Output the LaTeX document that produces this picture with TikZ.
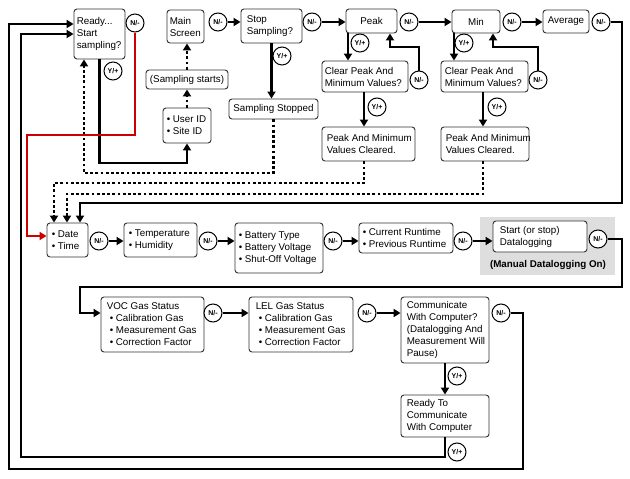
\documentclass[tikz,border=0pt]{standalone}
\usepackage{fontspec}
\setmainfont{Liberation Sans}
\usetikzlibrary{arrows.meta}
\definecolor{boxline}{gray}{0.2}
\definecolor{bggray}{gray}{0.87}
\definecolor{redline}{RGB}{204,0,0}
\tikzset{
 box/.style={draw=boxline, line width=0.9pt, rounded corners=3pt, fill=white, inner sep=0pt},
 txt/.style={inner sep=0pt, font=\fontsize{9.8}{12}\selectfont},
 yn/.style={draw=black, circle, line width=1pt, fill=white, minimum size=18pt, inner sep=0pt, font=\fontsize{7}{7}\selectfont\bfseries},
 arr/.style={line width=2.4pt, -{Triangle[length=7pt,width=8pt]}},
 dotarr/.style={line width=2.6pt, dash pattern=on 2.8pt off 2.4pt, -{Triangle[length=7pt,width=8pt]}},
 redarr/.style={arr, draw=redline}
}
% left-aligned box: name x1 y1 x2 y2 pad text
\newcommand\bxl[7]{%
 \pgfmathsetmacro\bxw{#4-#2}\pgfmathsetmacro\bxh{#5-#3}%
 \node[box, minimum width=\bxw pt, minimum height=\bxh pt] (#1) at ({(#2+#4)/2},{(#3+#5)/2}) {};
 \node[txt, align=left, anchor=west] (#1t) at ([xshift=#6pt]#1.west) {#7};}
% centred box: name x1 y1 x2 y2 text
\newcommand\bxc[6]{%
 \pgfmathsetmacro\bxw{#4-#2}\pgfmathsetmacro\bxh{#5-#3}%
 \node[box, minimum width=\bxw pt, minimum height=\bxh pt] (#1) at ({(#2+#4)/2},{(#3+#5)/2}) {};
 \node[txt, align=center] (#1t) at (#1.center) {#6};}
\begin{document}
\begin{tikzpicture}[x=1pt,y=-1pt]
\useasboundingbox (0,0) rectangle (630,479);
\fill[white] (0,0) rectangle (630,479);
\fill[bggray] (480,217) rectangle (615,275);
\node[txt, font=\fontsize{9.8}{12}\selectfont\bfseries] (dlon) at (548,265) {(Manual Datalogging On)};

% boxes
\bxl{ready}{74}{9}{125}{59}{3}{Ready...\\Start\\sampling?}
\bxl{ms}{167}{10}{204}{43}{3}{Main\\Screen}
\bxl{stop}{241}{9}{302}{43}{6}{Stop\\Sampling?}
\bxc{sstop}{229}{99}{318}{119}{Sampling Stopped}
\bxc{sst}{146}{70}{228}{89}{(Sampling starts)}
\bxl{uid}{163}{108}{211}{143}{4}{• User ID\\• Site ID}
\bxc{peak}{346}{9}{397}{33}{Peak}
\bxc{min}{452}{10}{500}{33}{Min}
\bxc{avg}{543}{10}{589}{33}{Average}
\bxl{clr1}{322}{61}{408}{92}{3}{Clear Peak And\\Minimum Values?}
\bxl{pc1}{322}{127}{415}{161}{5}{Peak And Minimum\\Values Cleared.}
\bxl{clr2}{441}{61}{528}{92}{4}{Clear Peak And\\Minimum Values?}
\bxl{pc2}{441}{127}{529}{161}{5}{Peak And Minimum\\Values Cleared.}
\bxl{date}{47}{223}{88}{257}{5}{• Date\\• Time}
\bxl{temp}{124}{223}{197}{257}{5}{• Temperature\\• Humidity}
\bxl{bat}{235}{223}{323}{273}{4}{• Battery Type\\• Battery Voltage\\• Shut-Off Voltage}
\bxl{rt}{359}{223}{453}{253}{4}{• Current Runtime\\• Previous Runtime}
\bxl{dl}{493}{221}{587}{252}{7}{Start (or stop)\\Datalogging}
\bxl{voc}{101}{297}{204}{352}{6}{VOC Gas Status\\\hspace*{3pt}• Calibration Gas\\\hspace*{3pt}• Measurement Gas\\\hspace*{3pt}• Correction Factor}
\bxl{lel}{249}{297}{353}{352}{7}{LEL Gas Status\\\hspace*{3pt}• Calibration Gas\\\hspace*{3pt}• Measurement Gas\\\hspace*{3pt}• Correction Factor}
\bxl{comm}{401}{297}{489}{363}{6}{Communicate\\With Computer?\\(Datalogging And\\Measurement Will\\Pause)}
\bxl{rtc}{401}{395}{489}{437}{6}{Ready To\\Communicate\\With Computer}

% circles
\node[yn] (n-ready) at (135,23) {N/-};
\node[yn] (y-ready) at (113,71) {Y/+};
\node[yn] (n-ms) at (218,22) {N/-};
\node[yn] (n-stop) at (312,22) {N/-};
\node[yn] (y-stop) at (282,56) {Y/+};
\node[yn] (n-peak) at (409,22) {N/-};
\node[yn] (y-peak) at (360,43) {Y/+};
\node[yn] (n-clr1) at (419,80) {N/-};
\node[yn] (y-clr1) at (377,107) {Y/+};
\node[yn] (n-min) at (512,22) {N/-};
\node[yn] (y-min) at (464,43) {Y/+};
\node[yn] (n-clr2) at (538,80) {N/-};
\node[yn] (y-clr2) at (497,107) {Y/+};
\node[yn] (n-avg) at (601,22) {N/-};
\node[yn] (n-date) at (99,241) {N/-};
\node[yn] (n-temp) at (208,241) {N/-};
\node[yn] (n-bat) at (333,241) {N/-};
\node[yn] (n-rt) at (463,241) {N/-};
\node[yn] (n-dl) at (598,239) {N/-};
\node[yn] (n-voc) at (213,313) {N/-};
\node[yn] (n-lel) at (367,313) {N/-};
\node[yn] (n-comm) at (501,313) {N/-};
\node[yn] (y-comm) at (457,376) {Y/+};
\node[yn] (y-rtc) at (457,452) {Y/+};

% top row
\draw[arr] (n-ms.east) -- (stop.west |- n-ms.east);
\draw[arr] (n-stop.east) -- (peak.west |- n-stop.east);
\draw[arr] (n-peak.east) -- (min.west |- n-peak.east);
\draw[arr] (n-min.east) -- (avg.west |- n-min.east);
\draw[arr] (n-avg.east) -| (622,203) -| (date.north -| 80,0);
\draw[arr] (stop.south) -- (stop.south |- sstop.north);
\draw[arr] (ready.south) -- (ready.south |- 0,163) -| (uid.south);
\draw[dotarr] (uid.north) -- (uid.north |- sst.south);
\draw[dotarr] (sst.north) -- (sst.north |- ms.south);
\draw[dotarr] (sstop.south) -- (sstop.south |- 0,173) -| (ready.south -| 84,0);
\draw[redarr] (n-ready.south) -- (n-ready.south |- 0,135) -| (27,236) -- (date.west |- 0,236);

% peak column
\draw[arr] (peak.south -| 348,0) -- (clr1.north -| 348,0);
\draw[arr] (n-clr1.north) -- (n-clr1.north |- 0,47) -| (peak.south -| 390,0);
\draw[arr] (clr1.south -| 364,0) -- (pc1.north -| 364,0);
\draw[dotarr] (pc1.south -| 364,0) -- (364,183) -| (date.north -| 54,0);
% min column
\draw[arr] (min.south -| 454,0) -- (clr2.north -| 454,0);
\draw[arr] (n-clr2.north) -- (n-clr2.north |- 0,47) -| (min.south -| 493,0);
\draw[arr] (clr2.south -| 483,0) -- (pc2.north -| 483,0);
\draw[dotarr] (pc2.south -| 483,0) -- (483,194) -| (date.north -| 67,0);

% second row
\draw[arr] (n-date.east) -- (temp.west |- n-date.east);
\draw[arr] (n-temp.east) -- (bat.west |- n-temp.east);
\draw[arr] (n-bat.east) -- (rt.west |- n-bat.east);
\draw[arr] (n-rt.east) -- (dl.west |- n-rt.east);
\draw[arr] (n-dl.east) -| (622,287) -| (80,313) -- (voc.west |- 0,313);

% third row
\draw[arr] (n-voc.east) -- (lel.west |- n-voc.east);
\draw[arr] (n-lel.east) -- (comm.west |- n-lel.east);
\draw[arr] (comm.south) -- (rtc.north);
\draw[arr] (n-comm.east) -| (523,469) -| (9,24) -- (ready.west |- 0,24);
\draw[arr] (rtc.south) -- (rtc.south |- 0,457) -| (21,34) -- (ready.west |- 0,34);
\end{tikzpicture}
\end{document}
